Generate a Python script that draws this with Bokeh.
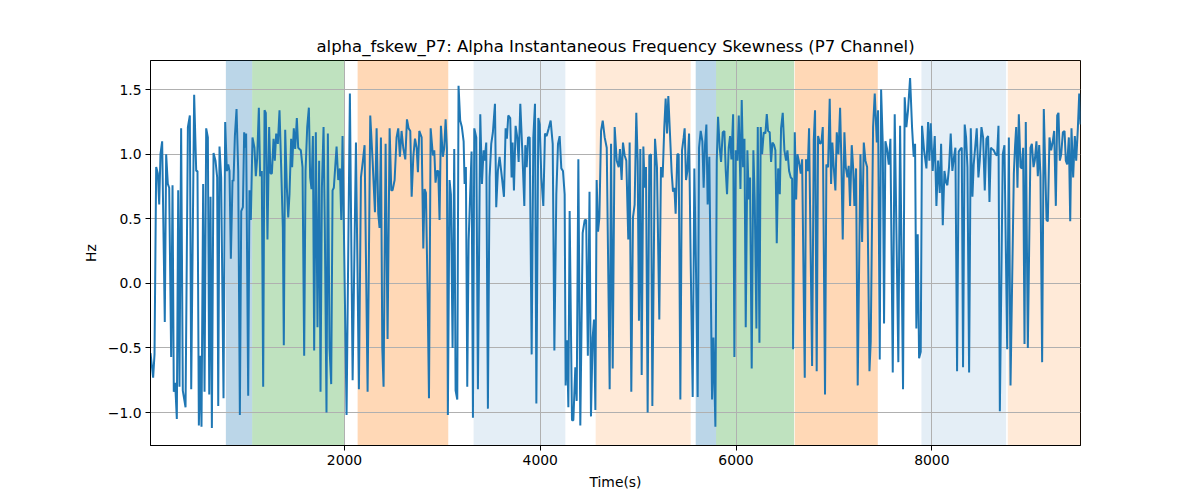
from bokeh.plotting import figure
from bokeh.models import Range1d, FixedTicker, ColumnDataSource
from bokeh.embed import file_html
from bokeh.resources import INLINE

# ---- data ----
t1 = [18,45,59,76,93,107,120,137,164,178,195,209,229,243,256,270,287,301,314,331,348,376,400,420,434,464,485,498,512,526,539,556,570,587,604,618,631,645,662,682,699,710,723,740,764,781,798,812,825,839,856,866,880,897,914,931,945,962,975]
v1 = [-0.54,-0.73,-0.55,0.9,0.85,0.61,1.0,1.1,-0.3,1.0,0.77,0.74,-0.57,0.76,-0.84,-0.77,-1.05,0.72,-0.8,1.2,-0.83,-0.96,1.21,1.3,-0.82,1.46,0.87,0.87,-1.1,-0.56,-1.11,0.77,-0.84,1.2,1.13,-0.86,0.67,-1.12,1.01,0.95,0.82,-0.95,1.06,0.82,-0.89,1.25,0.87,0.92,0.87,0.19,0.8,0.79,1.14,1.35,0.87,-1.02,0.56,0.59,1.17]
t2 = [982,995,1016,1029,1043,1060,1080,1094,1108,1125,1138,1155,1169,1183,1196,1213,1230,1244,1258,1275,1288,1302,1319,1336,1353,1370,1380,1394,1411,1425,1438,1455,1465,1482,1496,1513,1527,1540,1554,1571,1588,1602,1619,1636,1649,1663,1677,1690,1707,1724,1741,1755,1769,1786,1799,1816,1830,1847,1864,1878,1891,1905,1919,1936]
v2 = [1.05,1.16,-0.87,0.72,0.49,1.13,1.05,0.83,0.97,1.36,0.83,0.87,-0.8,1.34,1.32,0.34,1.21,0.85,0.85,1.12,0.95,1.16,1.08,1.34,0.9,0.43,-0.48,1.19,0.74,0.51,0.69,1.12,0.9,1.2,1.04,1.28,1.05,1.04,1.03,0.9,-0.56,0.87,1.21,1.36,0.82,0.73,1.14,-0.52,1.17,-0.34,0.95,-0.84,0.74,1.21,0.43,-1.0,1.16,-0.5,-0.78,0.72,0.74,0.9,1.06,0.8]
t3 = [1953,1967,1980,2021,2055,2083,2117,2147,2168,2188,2205,2236,2263,2287,2311,2328,2345,2358,2372,2386,2399,2420,2440,2461,2478,2491,2512,2532,2549,2566,2583,2600,2621,2638,2655,2672,2686,2703,2720,2737,2750,2764,2788,2805,2818,2832,2849,2863,2880]
v3 = [0.89,0.49,1.14,-1.02,1.47,-0.75,1.09,-0.82,0.82,0.95,1.07,-0.84,1.3,0.95,0.55,1.2,0.54,0.43,1.13,-0.5,-0.8,1.08,-0.43,1.2,0.72,0.72,0.8,1.13,1.2,0.98,1.18,1.05,0.96,1.27,1.2,1.18,0.67,0.98,1.12,1.05,0.86,1.18,1.13,0.27,0.73,0.7,-0.08,-0.89,1.2]
t4 = [2903,2917,2930,2944,2958,2971,2985,3005,3019,3033,3046,3056,3073,3087,3104,3121,3135,3152,3165,3182,3199,3217,3227,3240,3254,3268,3298,3312,3326,3346,3363,3387,3404,3421,3431,3448,3465,3482,3499,3516,3537,3550,3567,3584,3608,3629,3646,3659,3673,3693,3707,3717,3731,3748,3765,3779,3796,3816,3837]
v4 = [0.99,1.03,0.78,0.87,0.87,0.49,1.22,0.98,1.05,1.27,1.05,-1.02,0.8,0.69,-0.5,1.04,-0.83,-0.9,1.53,1.26,1.21,1.1,0.77,0.9,-0.8,0.33,1.02,-1.04,1.2,1.13,-0.82,1.31,0.77,1.03,0.95,1.09,-0.97,0.82,1.08,1.17,1.39,0.59,0.87,0.98,0.82,0.67,1.2,1.12,1.3,1.28,0.82,1.09,0.72,1.22,1.13,0.94,1.39,1.03,0.6]
t5 = [3847,3861,3875,3892,3912,3929,3946,3960,3980,3994,4011,4031,4048,4065,4086,4106,4127,4144,4164,4181,4198,4215,4232,4249,4259,4273,4287,4300,4324,4338,4358,4372,4389,4409,4433,4454,4469,4486,4503,4518,4535,4549,4563,4576,4590,4604,4621,4638,4658,4679,4709,4723,4740,4760,4781]
v5 = [1.07,0.9,1.13,1.13,-0.55,1.13,1.39,-0.93,1.28,1.23,0.82,0.6,1.16,1.14,1.2,1.26,1.08,-0.52,0.69,1.08,1.14,0.89,0.87,0.69,-0.79,-0.44,-0.96,0.56,-1.06,-1.06,-0.65,-0.91,0.96,-1.1,0.39,0.49,0.49,-0.56,0.71,-1.03,-0.42,-0.28,-0.98,0.8,0.4,0.51,1.18,1.26,1.13,1.05,-0.82,1.08,-0.66,1.21,0.95]
t6 = [4801,4814,4831,4845,4862,4879,4899,4913,4930,4947,4964,4981,4995,5008,5022,5036,5053,5066,5080,5097,5114,5131,5145,5172,5192,5216,5233,5250,5267,5281,5295,5308,5325,5342,5356,5370,5383,5400,5414,5431,5448,5465,5475,5489,5503,5520,5537,5557,5574,5591,5608,5622,5639,5656,5669,5683,5697,5710,5727]
v6 = [0.9,1.04,0.8,1.09,0.99,0.95,0.34,1.09,-0.84,0.51,0.61,1.32,0.95,-0.29,1.04,-0.71,1.06,0.74,0.9,-1.0,0.99,1.0,-0.95,1.12,0.9,-0.28,0.9,0.82,1.21,1.43,1.16,1.45,1.16,0.86,0.71,0.74,0.54,1.0,1.0,-0.9,1.03,1.13,1.2,0.8,0.87,1.16,0.14,-0.88,0.89,0.1,-0.88,1.05,1.18,1.1,0.74,1.07,1.23,0.61,0.98]
t7 = [5755,5769,5789,5803,5816,5833,5847,5864,5881,5895,5908,5925,5939,5953,5970,5983,5997,6014,6028,6045,6058,6072,6086,6099,6116,6130,6143,6160,6177,6191,6208,6222,6239,6252,6266,6283,6300,6314,6327,6344,6358,6372,6389,6402,6416,6430,6447,6460,6477,6494,6511,6525,6542,6559,6573,6583,6600,6614,6627,6641,6661,6675]
v7 = [-0.9,-0.42,-1.11,0.95,1.29,1.05,0.94,1.17,1.18,0.87,0.69,1.05,1.14,0.96,1.31,-0.57,1.03,0.95,1.3,0.73,1.42,0.9,1.12,-0.34,1.03,0.65,0.82,-0.66,1.03,0.64,-0.35,1.21,-0.46,1.21,1.0,1.17,1.16,1.31,1.18,1.17,0.94,1.09,1.07,1.03,0.31,0.89,0.69,1.2,1.32,1.03,0.95,1.03,0.87,0.82,0.81,-0.51,1.17,0.65,1.0,0.95,0.85,0.96]
t8 = [6702,6715,6732,6746,6777,6794,6807,6824,6838,6858,6872,6886,6909,6923,6940,6957,6971,6984,6998,7015,7029,7046,7063,7076,7090,7107,7121,7138,7151,7165,7182,7196,7209,7226,7243,7271,7288,7305,7322,7339,7363,7376,7400,7417,7438,7451,7468,7482,7499,7512,7526,7543,7560,7577,7601]
v8 = [-0.73,0.96,0.87,1.2,-0.64,1.11,1.34,-0.68,1.14,1.08,1.09,1.21,-0.86,0.92,0.9,1.43,0.77,1.09,0.9,0.72,1.17,1.0,1.36,0.95,0.34,1.17,0.9,0.82,0.91,0.6,1.07,0.9,0.6,0.89,-0.79,1.0,0.32,1.09,0.95,0.9,-0.68,-0.45,1.21,1.47,1.09,1.34,-0.59,1.5,1.08,-0.31,1.1,1.04,0.92,1.12,-0.69]
t9 = [7621,7658,7676,7706,7723,7740,7757,7778,7798,7815,7829,7842,7856,7870,7887,7900,7921,7945,7962,7975,7989,8009,8030,8047,8064,8081,8095,8112,8129,8146,8159,8176,8193,8210,8227,8241,8258,8275,8292,8306,8319,8336,8350,8364,8381,8398,8415,8428,8445,8459,8476,8490,8507,8524,8541,8558,8575,8589]
v9 = [1.31,-0.61,1.22,-0.82,1.44,1.21,1.34,1.59,1.21,0.98,1.08,-0.35,0.38,-0.58,-0.53,1.22,1.03,0.89,1.25,0.95,1.24,0.87,1.14,0.6,0.95,0.7,1.08,0.45,0.87,0.78,0.76,0.9,1.16,0.87,0.98,1.05,-0.68,1.02,1.04,1.05,-0.65,1.23,1.13,0.9,-0.69,1.2,0.67,0.92,1.07,1.2,0.82,0.95,1.21,1.13,0.72,1.12,1.14,0.63]
t10 = [8603,8616,8633,8650,8667,8681,8695,8725,8742,8770,8787,8804,8838,8851,8862,8875,8889,8906,8920,8933,8947,8960,8981,9008,9022,9039,9052,9069,9083,9097,9110,9127,9144,9172,9185,9202,9219,9236,9250,9267,9281,9294,9308,9322,9339,9356,9369,9383,9400,9414,9427,9444,9461,9475,9492,9506,9519]
v10 = [1.05,1.04,1.03,1.0,0.99,1.22,-0.99,1.0,1.07,-0.51,1.13,-0.79,0.85,1.07,1.21,0.74,1.31,0.9,0.89,1.05,-0.47,1.25,-0.5,1.05,1.08,0.9,0.95,1.1,0.83,1.07,0.83,-0.61,1.35,0.49,0.48,1.13,1.03,1.1,1.18,0.6,1.3,1.32,0.95,1.0,1.17,1.18,0.95,0.92,1.13,0.48,1.2,0.82,1.14,0.95,1.2,1.47,1.23]

t_parts = [t1, t2, t3, t4, t5, t6, t7, t8, t9, t10]
v_parts = [v1, v2, v3, v4, v5, v6, v7, v8, v9, v10]
time_s, fskew = [], []
for tp, vp in zip(t_parts, v_parts):
    n = min(len(tp), len(vp))
    time_s += tp[:n]
    fskew += vp[:n]

span_start = [788, 1057, 2134, 3319, 4566, 5588, 5796, 6600, 7894, 8776]
span_end = [1057, 2001, 3060, 4256, 5537, 5796, 6593, 7448, 8759, 9600]
span_color = ["#1f77b4", "#2ca02c", "#ff7f0e", "#1f77b4", "#ff7f0e",
              "#1f77b4", "#2ca02c", "#ff7f0e", "#1f77b4", "#ff7f0e"]
span_alpha = [0.3, 0.3, 0.3, 0.12, 0.16, 0.3, 0.3, 0.3, 0.12, 0.16]

x_ticks = [2000, 4000, 6000, 8000]
y_ticks = [-1.0, -0.5, 0.0, 0.5, 1.0, 1.5]
y_tick_labels = ["\u22121.0", "\u22120.5", "0.0", "0.5", "1.0", "1.5"]

title_text = "alpha_fskew_P7: Alpha Instantaneous Frequency Skewness (P7 Channel)"
x_label = "Time(s)"
y_label = "Hz"

# ---- ranges (matplotlib-like autoscale) ----
xmin, xmax = min(time_s), max(time_s)
ymin, ymax = min(fskew), max(fskew)
pad = 0.05 * (ymax - ymin)

FONT = "DejaVu Sans"

p = figure(frame_width=930, frame_height=385,
           min_border_left=150, min_border_right=110,
           min_border_top=60, min_border_bottom=45,
           x_range=Range1d(xmin, xmax), y_range=Range1d(ymin - pad, ymax + pad),
           output_backend="svg", toolbar_location=None)

span_src = ColumnDataSource(dict(left=span_start, right=span_end,
                                 bottom=[ymin - 10] * len(span_start),
                                 top=[ymax + 10] * len(span_start),
                                 color=span_color, alpha=span_alpha))
p.quad(left="left", right="right", bottom="bottom", top="top",
       fill_color="color", fill_alpha="alpha", line_color=None,
       source=span_src, level="image")

p.line(time_s, fskew, line_color="#1f77b4", line_width=2)

p.title.text = title_text
p.title.align = "center"
p.title.text_font = FONT
p.title.text_font_size = "16.5px"
p.title.text_font_style = "normal"
p.title.text_color = "black"

p.xaxis.ticker = FixedTicker(ticks=x_ticks)
p.yaxis.ticker = FixedTicker(ticks=y_ticks)
p.yaxis.major_label_overrides = {t: l for t, l in zip(y_ticks, y_tick_labels)}
p.xaxis.axis_label = x_label
p.yaxis.axis_label = y_label
for ax in (p.xaxis, p.yaxis):
    ax.axis_label_text_font = FONT
    ax.axis_label_text_font_size = "13.9px"
    ax.axis_label_text_font_style = "normal"
    ax.axis_label_text_color = "black"
    ax.major_label_text_font = FONT
    ax.major_label_text_font_size = "13.9px"
    ax.major_label_text_color = "black"
    ax.minor_tick_line_color = None
    ax.major_tick_in = 0
    ax.major_tick_out = 5
    ax.major_tick_line_color = "black"
    ax.axis_line_color = "black"
    ax.axis_label_standoff = 6
    ax.major_label_standoff = 4

p.xgrid.ticker = FixedTicker(ticks=x_ticks)
p.ygrid.ticker = FixedTicker(ticks=y_ticks)
p.grid.grid_line_color = "#b0b0b0"
p.grid.grid_line_width = 1

p.outline_line_color = "black"
p.outline_line_alpha = 1
p.outline_line_width = 1
p.background_fill_color = "white"
p.border_fill_color = "white"

open("out.html", "w").write(file_html(p, INLINE))
